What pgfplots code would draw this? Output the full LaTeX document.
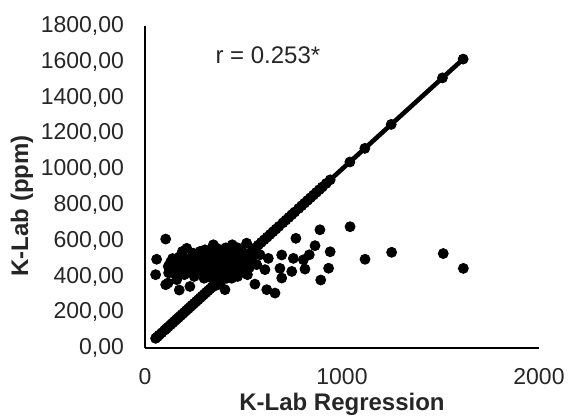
\documentclass[border=0pt]{standalone}
\usepackage{pgfplots}
\pgfplotsset{compat=1.18}
\usepackage{fontspec}
\setmainfont{Liberation Sans}
\begin{document}
\begin{tikzpicture}
\begin{axis}[
  scale only axis,
  width=197pt, height=161pt,
  xmin=0, xmax=2000, ymin=0, ymax=1800,
  axis lines=left,
  axis line style={-, line width=1pt, black},
  xtick={0,1000,2000},
  ytick={0,200,400,600,800,1000,1200,1400,1600,1800},
  major tick length=0pt,
  scaled ticks=false,
  clip=false,
  /pgf/number format/assume math mode=true,
  tick label style={font=\fontsize{11.5}{13}\selectfont, text=black!85},
  xticklabel style={/pgf/number format/.cd, fixed, precision=0, 1000 sep={}, /tikz/.cd, yshift=-6.5pt},
  yticklabel style={/pgf/number format/.cd, fixed, fixed zerofill, precision=2, use comma, 1000 sep={}, /tikz/.cd, xshift=-7pt},
]
% regression (diagonal) points
\addplot[black, line width=2.3pt, no marks] coordinates {(54,54) (1615,1615)};
\addplot[black, only marks, mark=*, mark size=2.5pt] coordinates {
(54,54) (62,62) (72,72) (85,85) (100,100) (108,108) (118,118) (130,130)
(140,140) (150,150) (160,160) (170,170) (180,180) (190,190) (200,200)
(210,210) (220,220) (230,230) (240,240) (250,250) (260,260) (270,270)
(280,280) (290,290) (300,300) (310,310) (320,320) (330,330) (340,340)
(350,350) (360,360) (370,370) (380,380) (390,390) (400,400) (410,410)
(420,420) (430,430) (440,440) (450,450) (460,460) (470,470) (480,480)
(490,490) (500,500) (510,510) (520,520) (530,530) (545,545) (560,560)
(575,575) (590,590) (605,605) (620,620) (635,635) (650,650) (665,665)
(680,680) (700,700) (715,715) (730,730) (745,745) (760,760) (780,780)
(795,795) (810,810) (825,825) (840,840) (855,855) (870,870) (885,885)
(900,900) (920,920) (940,940) (1040,1040) (1116,1116) (1250,1250)
(1510,1510) (1615,1615)
};
% measured points
\addplot[black, only marks, mark=*, mark size=2.5pt] coordinates {
(1041,678) (940,538) (932,446) (1117,496) (1252,535) (1514,528) (1616,445)
(888,661) (766,613) (863,572) (834,521) (804,493) (812,441) (892,380)
(753,501) (745,428) (694,520) (685,445) (694,391) (660,307) (618,326)
(558,357) (626,501) (584,521) (567,466) (609,438) (516,586) (508,428)
(105,609) (59,496) (54,410) (105,354) (174,324) (228,344) (118,456)
(169,501) (161,382) (212,557) (237,484) (271,438) (305,549) (347,577)
(381,549) (443,577) (406,326) (338,391) (220,428) (144,419) (330,501)
(389,447) (457,501) (491,540) (254,521) (194,466) (288,466) (423,410)
(117,363) (130,480) (150,440) (180,430) (200,500) (240,450) (260,470)
(280,540) (300,420) (320,470) (340,520) (360,450) (370,500) (400,480)
(420,540) (440,460) (460,430) (480,470) (350,400) (300,390) (250,400)
(120,420) (140,500) (190,540) (270,510) (380,420) (420,500) (360,560)
(470,560) (500,480) (530,450) (540,500) (520,410) (440,390) (470,400)
(135,450) (155,470) (165,430) (185,480) (205,450) (225,500) (245,530)
(265,490) (285,430) (295,510) (315,440) (325,540) (345,480) (355,430)
(375,470) (395,520) (405,450) (415,390) (430,480) (450,520) (465,460)
(485,440) (495,510) (510,470) (230,470) (175,510) (200,410) (260,430)
(340,450) (410,560) (385,370) (360,350)
};
\node[font=\fontsize{12}{14}\selectfont, text=black!85] at (axis cs:624,1638) {r = 0.253*};
\node[font=\bfseries\fontsize{12}{14}\selectfont, text=black!85, anchor=center] at ([yshift=-28pt]axis cs:1000,0) {K-Lab Regression};
\node[font=\bfseries\fontsize{12}{14}\selectfont, text=black!85, rotate=90, anchor=center] at ([xshift=-61.5pt]axis cs:0,794) {K-Lab (ppm)};
\end{axis}
\pgfresetboundingbox
\path ([xshift=-72.5pt,yshift=-35pt]current axis.south west) rectangle ([xshift=14.5pt,yshift=13pt]current axis.north east);
\end{tikzpicture}
\end{document}
